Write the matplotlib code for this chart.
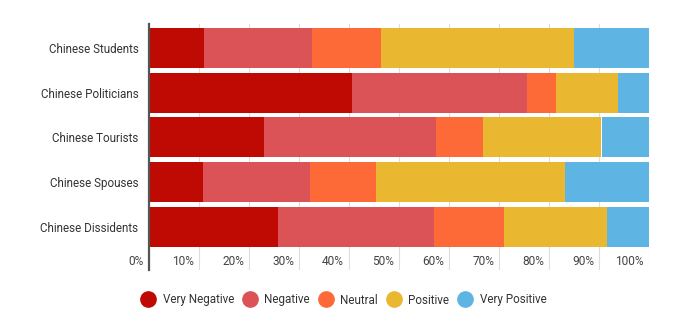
import matplotlib.pyplot as plt
import matplotlib.transforms as mtransforms
import numpy as np

plt.rcParams['font.family'] = ['Roboto', 'DejaVu Sans']

groups = ['Chinese Students', 'Chinese Politicians', 'Chinese Tourists',
          'Chinese Spouses', 'Chinese Dissidents']
levels = ['Very Negative', 'Negative', 'Neutral', 'Positive', 'Very Positive']
colors = ['#BE0A02', '#DB5257', '#FD6A37', '#E9B830', '#5EB5E4']

# share of answers (%) per group, one list per level
very_negative = [11.0, 40.6, 22.9, 10.8, 25.7]
negative = [21.6, 35.0, 34.4, 21.4, 31.2]
neutral = [13.8, 5.7, 9.6, 13.2, 14.0]
positive = [38.6, 12.4, 23.6, 37.8, 20.7]
very_positive = [15.0, 6.3, 9.5, 16.8, 8.4]

ticks = [0, 10, 20, 30, 40, 50, 60, 70, 80, 90, 100]
tick_labels = ['0%', '10%', '20%', '30%', '40%', '50%', '60%', '70%',
               '80%', '90%', '100%']

fig = plt.figure(figsize=(6.93, 3.29), dpi=100)
ax = fig.add_axes([149 / 693, 1 - 270 / 329, 500 / 693, 246 / 329])

y = np.arange(len(groups))
left = np.zeros(len(groups))
for name, vals, c in zip(levels, [very_negative, negative, neutral, positive, very_positive], colors):
    ax.barh(y, vals, left=left, height=0.895, color=c, label=name, zorder=2)
    left += np.array(vals)

ax.set_xlim(0, 100)
ax.set_ylim(4.97, -0.537)

ax.set_yticks(y)
ax.set_yticklabels(groups, fontsize=8.4, color='#333333')
ax.tick_params(axis='y', length=0, pad=7.5)

ax.set_xticks(ticks)
ax.set_xticklabels(tick_labels, fontsize=8.6, color='#444444', ha='right')
ax.tick_params(axis='x', length=0, pad=-10.5)
shift = mtransforms.ScaledTranslation(-5 / 100, 0, fig.dpi_scale_trans)
for lab in ax.get_xticklabels():
    lab.set_transform(lab.get_transform() + shift)

ax.grid(axis='x', color='#dddddd', linewidth=0.8, zorder=0)
for s in ['top', 'right', 'bottom']:
    ax.spines[s].set_visible(False)
ax.spines['left'].set_color('#555555')
ax.spines['left'].set_linewidth(1.6)
ax.spines['left'].set_zorder(3)

handles = [plt.Line2D([], [], marker='o', linestyle='', markersize=11,
                      markerfacecolor=c, markeredgecolor=c) for c in colors]
fig.legend(handles, levels, loc='center', bbox_to_anchor=(344 / 693, 1 - 300 / 329),
           ncol=5, frameon=False, fontsize=8.4, handlelength=1.1,
           handletextpad=0.7, columnspacing=0.8, labelcolor='#333333')

fig.savefig('out.png', dpi=100)
